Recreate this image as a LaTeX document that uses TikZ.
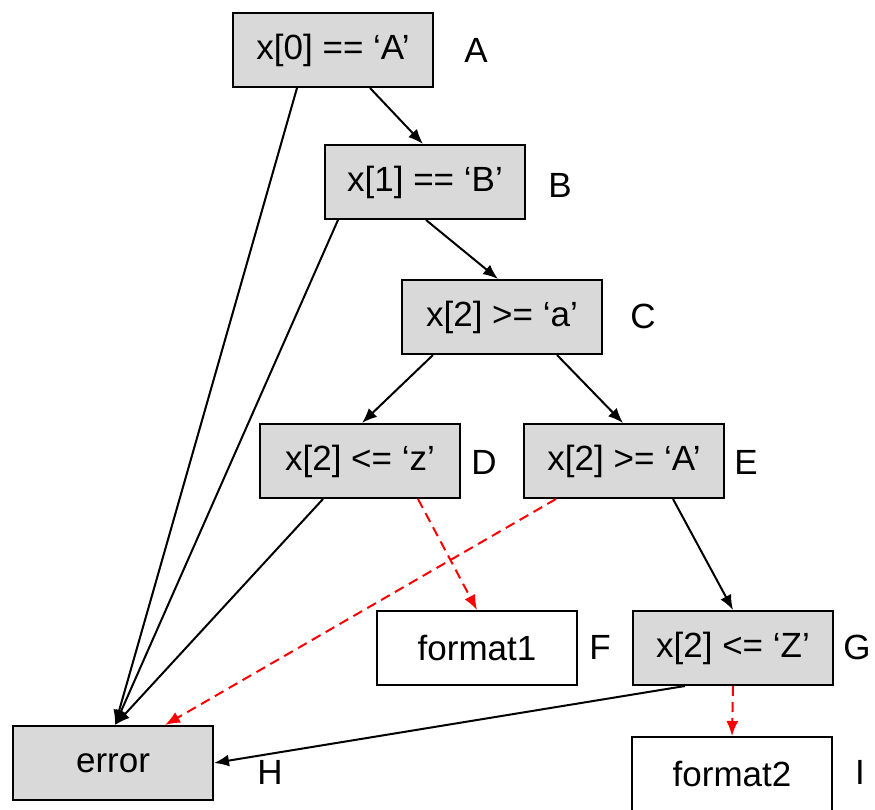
\documentclass[tikz,border=0pt]{standalone}
\usepackage{fontspec}
\setmainfont{Liberation Sans}
\usepackage{xcolor}
\usetikzlibrary{arrows.meta}

\begin{document}
\begin{tikzpicture}[x=1pt, y=-1pt, line width=2pt, >={Latex[length=15pt,width=12pt]},
  font=\fontsize{35}{42}\selectfont,
  test/.style={draw=black, fill=boxgray, minimum width=200pt, minimum height=74pt, inner sep=0pt},
  leaf/.style={test, fill=white},
  tag/.style={inner sep=0pt},
  fail/.style={->, red, dash pattern=on 10pt off 6pt}]
  \definecolor{boxgray}{RGB}{217,217,217}
  \useasboundingbox (0,0) rectangle (875,810);
  \clip (0,0) rectangle (875,810);
  % decision boxes
  \node[test] (a) at (333,50) {x[0] == ‘A’};
  \node[test] (b) at (425,182) {x[1] == ‘B’};
  \node[test] (c) at (502,317) {x[2] >= ‘a’};
  \node[test] (d) at (360,461) {x[2] <= ‘z’};
  \node[test] (e) at (624,461) {x[2] >= ‘A’};
  \node[leaf] (f) at (477,648) {format1};
  \node[test] (g) at (733,648) {x[2] <= ‘Z’};
  \node[test] (h) at (113,763) {error};
  \node[leaf] (i) at (732,774) {format2};
  % letters
  \node[tag] at (476,50) {A};
  \node[tag] at (560,185) {B};
  \node[tag] at (643,316) {C};
  \node[tag] at (484,462) {D};
  \node[tag] at (746,462) {E};
  \node[tag] at (600,647) {F};
  \node[tag] at (857,647) {G};
  \node[tag] at (270,772) {H};
  \node[tag] at (860,772) {I};
  % edges
  \draw[->] ([xshift=37pt]a.south) -- ([xshift=-2pt]b.north);
  \draw[->] ([xshift=-36pt]a.south) -- ([xshift=2pt]h.north);
  \draw[->] ([xshift=1pt]b.south) -- ([xshift=-4pt]c.north);
  \draw[->] ([xshift=-87pt]b.south) -- ([xshift=2pt]h.north);
  \draw[->] ([xshift=-69pt]c.south) -- ([xshift=2pt]d.north);
  \draw[->] ([xshift=55pt]c.south) -- ([xshift=-1pt]e.north);
  \draw[->] ([xshift=-37pt]d.south) -- ([xshift=2pt]h.north);
  \draw[fail] ([xshift=58pt]d.south) -- (f.north);
  \draw[fail] ([xshift=-68pt]e.south) -- ([xshift=52pt]h.north);
  \draw[->] ([xshift=49pt]e.south) -- (g.north);
  \draw[->] ([xshift=-48pt]g.south) -- (h.east);
  \draw[fail] (g.south) -- (i.north);
\end{tikzpicture}
\end{document}
